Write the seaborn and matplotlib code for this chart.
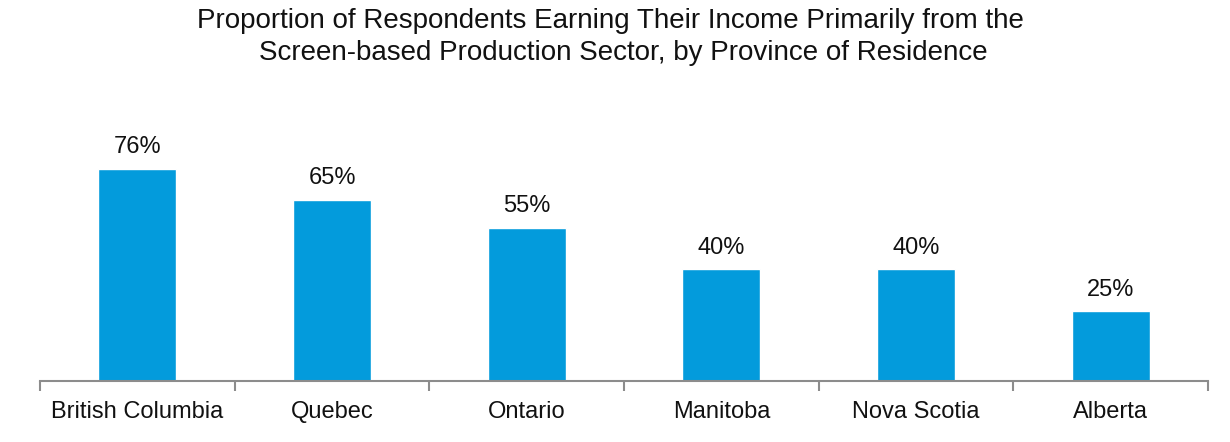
import matplotlib
matplotlib.use("Agg")
import matplotlib.pyplot as plt
import seaborn as sns
import pandas as pd
from matplotlib.ticker import FixedLocator

provinces = ["British Columbia", "Quebec", "Ontario", "Manitoba", "Nova Scotia", "Alberta"]
shares = [76, 65, 55, 40, 40, 25]
value_labels = ["76%", "65%", "55%", "40%", "40%", "25%"]
title_lines = ["Proportion of Respondents Earning Their Income Primarily from the",
               "Screen-based Production Sector, by Province of Residence"]

sns.set_theme(style="white")
plt.rcParams["font.family"] = ["Liberation Sans", "DejaVu Sans"]

df = pd.DataFrame({"province": provinces, "share": shares})

fig = plt.figure(figsize=(12.3, 4.42), dpi=100)
ax = fig.add_axes([40 / 1230, 61 / 442, 1168 / 1230, 279 / 442])

sns.barplot(data=df, x="province", y="share", color="#039BDC", width=0.4,
            saturation=1, ax=ax)

for i, (v, lab) in enumerate(zip(shares, value_labels)):
    ax.text(i, v + 3.8, lab, ha="center", va="bottom", fontsize=17, color="#111111")

ax.set_xlim(-0.5, len(provinces) - 0.5)
ax.set_ylim(0, 100)
ax.set_xlabel("")
ax.set_ylabel("")
ax.set_yticks([])
for s in ["top", "right", "left"]:
    ax.spines[s].set_visible(False)
ax.spines["bottom"].set_color("#8C8C8C")
ax.spines["bottom"].set_linewidth(1.5)

ax.tick_params(axis="x", which="major", length=0, labelsize=17, pad=14.5, labelcolor="#111111")
ax.xaxis.set_minor_locator(FixedLocator([i - 0.5 for i in range(len(provinces) + 1)]))
ax.tick_params(axis="x", which="minor", bottom=True, length=7, width=1.5,
               color="#8C8C8C", direction="out")

fig.text(610 / 1230, 1 - 21 / 442, title_lines[0], ha="center", va="center",
         fontsize=20, color="#111111")
fig.text(623 / 1230, 1 - 53 / 442, title_lines[1], ha="center", va="center",
         fontsize=20, color="#111111")

fig.savefig("out.png", dpi=100)
